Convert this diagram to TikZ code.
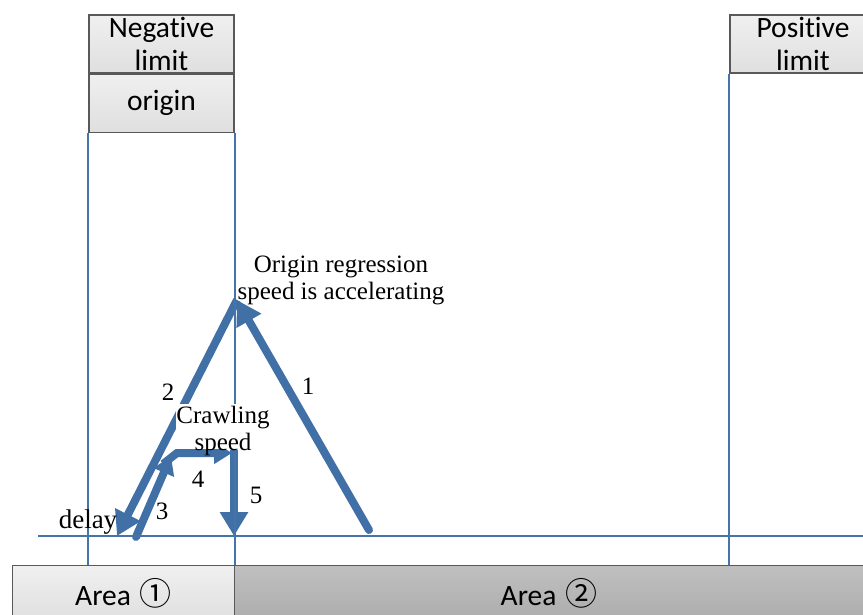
\documentclass[tikz,border=0pt]{standalone}
\usepackage{fontspec}
\setmainfont{Liberation Serif}
\newfontfamily\boxfont[RawFeature={-liga;-calt;-clig}]{Carlito}
\newfontfamily\circfont{Noto Sans CJK SC}
\usetikzlibrary{arrows.meta}
\definecolor{lineblue}{RGB}{68,116,170}
\definecolor{arrowblue}{RGB}{64,112,166}
\definecolor{boxborder}{RGB}{89,89,89}
\tikzset{
  graybox/.style={draw=boxborder, line width=1.2pt, top color=gray!12, bottom color=gray!25,
    align=center, inner sep=0pt, font=\boxfont\fontsize{29.5}{33}\selectfont},
  darkbox/.style={draw=boxborder, line width=1.2pt, top color=gray!50, bottom color=gray!65,
    align=center, inner sep=0pt, font=\boxfont\fontsize{29.5}{33}\selectfont},
  thinblue/.style={draw=lineblue, line width=2pt},
  bigarrow/.style={draw=arrowblue, line width=8pt, -{Triangle[length=24pt,width=27pt]}},
  smallarrow/.style={draw=arrowblue, line width=8pt, -{Triangle[length=18pt,width=21pt]}},
  lbl/.style={inner sep=1pt, font=\fontsize{25}{28}\selectfont, align=center},
}
\newcommand{\circnum}[1]{{\circfont\fontsize{32}{32}\selectfont #1}}
\begin{document}
\begin{tikzpicture}[x=1pt,y=-1pt]
\useasboundingbox (0,0) rectangle (863,615);
% top boxes
\node[graybox, minimum width=145pt, minimum height=58pt] (neg) at (161.5,44) {Negative\\limit};
\node[graybox, minimum width=145pt, minimum height=58pt, anchor=north] (orig) at (neg.south) {origin};
\node[graybox, minimum width=146pt, minimum height=58pt] (pos) at (803,44) {Positive\\limit};
% bottom areas
\node[graybox, minimum width=222pt, minimum height=56pt, anchor=north west] (area1) at (12,565) {Area\hspace{9pt}\circnum{①}};
\node[darkbox, minimum width=629pt, minimum height=56pt, anchor=north west] (area2) at (234,565) {Area\hspace{9pt}\circnum{②}};
% thick arrows
\coordinate (apex) at (237,300);
\coordinate (s1) at (369,530);
\coordinate (e2) at (117,536);
\coordinate (s3) at (136,537);
\coordinate (e3) at (171,456);
\coordinate (s4) at (163,464);
\coordinate (c4) at (177,453);
\coordinate (e4) at (232,453);
\coordinate (s5) at (234,450);
\coordinate (e5) at (234,536);
\draw[bigarrow, line cap=round] (s1) -- (apex);
\draw[bigarrow] (apex) -- (e2);
\draw[smallarrow, line cap=round] (s3) -- (e3);
\draw[smallarrow, line join=miter] (s4) -- (c4) -- (e4);
\draw[bigarrow] (s5) -- (e5);
% thin blue lines
\coordinate (hl) at (38,536);
\coordinate (hr) at (863,536);
\draw[thinblue] (orig.south west) -- (orig.south west |- area1.north);
\draw[thinblue] (orig.south east) -- (orig.south east |- area1.north);
\draw[thinblue] (pos.south west) -- (pos.south west |- area2.north);
\draw[thinblue] (hl) -- (hr);
% labels
\fill[white] (176,404) rectangle (272,449);
\node[lbl] (crawl) at (223,431) {Crawling\\[-1pt]speed};
\node[lbl] (orl) at (341,280) {Origin regression\\[-1pt]speed is accelerating};
\node[lbl] (l1) at (308,386) {1};
\node[lbl] (l2) at (168,392) {2};
\node[lbl] (l3) at (162,511) {3};
\node[lbl] (l4) at (198,479) {4};
\node[lbl] (l5) at (256,495) {5};
\node[lbl, font=\fontsize{27}{30}\selectfont] (dl) at (88,522) {delay};
\end{tikzpicture}
\end{document}
